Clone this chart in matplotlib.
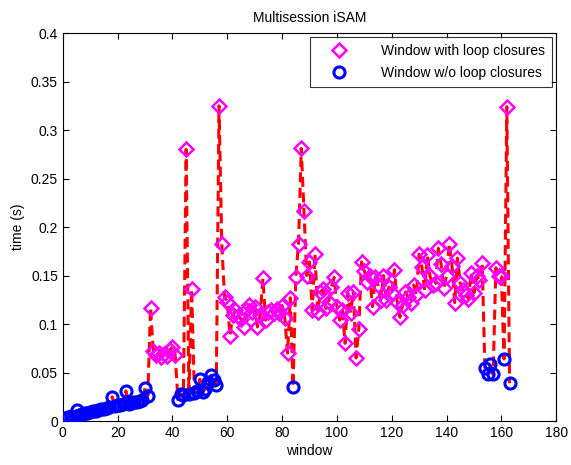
import matplotlib
matplotlib.use('Agg')
import matplotlib.pyplot as plt
import numpy as np

plt.rcParams['font.family'] = ['Liberation Sans', 'DejaVu Sans']

# time per window (s); loop closure flag per window
windows = list(range(1, 164))
times = [
    0.003, 0.004, 0.005, 0.004, 0.011, 0.006, 0.007, 0.008, 0.008, 0.009,
    0.010, 0.010, 0.011, 0.012, 0.012, 0.013, 0.014, 0.025, 0.015, 0.016,
    0.017, 0.018, 0.031, 0.018, 0.019, 0.020, 0.020, 0.021, 0.022, 0.034,
    0.026, 0.117, 0.072, 0.068, 0.070, 0.066, 0.069, 0.067, 0.073, 0.076,
    0.068, 0.022, 0.028, 0.027, 0.280, 0.028, 0.136, 0.029, 0.031, 0.043,
    0.030, 0.033, 0.040, 0.047, 0.042, 0.037, 0.325, 0.183, 0.128, 0.123,
    0.088, 0.109, 0.114, 0.108, 0.105, 0.097, 0.114, 0.120, 0.112, 0.118,
    0.097, 0.109, 0.147, 0.104, 0.112, 0.114, 0.111, 0.115, 0.111, 0.119,
    0.106, 0.070, 0.127, 0.035, 0.148, 0.183, 0.281, 0.216, 0.150, 0.164,
    0.114, 0.172, 0.112, 0.133, 0.136, 0.116, 0.123, 0.138, 0.148, 0.118,
    0.104, 0.114, 0.080, 0.132, 0.111, 0.133, 0.065, 0.095, 0.164, 0.155,
    0.143, 0.149, 0.118, 0.148, 0.140, 0.125, 0.150, 0.125, 0.138, 0.132,
    0.156, 0.123, 0.107, 0.120, 0.133, 0.128, 0.122, 0.140, 0.130, 0.172,
    0.159, 0.135, 0.171, 0.149, 0.140, 0.142, 0.178, 0.162, 0.137, 0.150,
    0.183, 0.160, 0.122, 0.168, 0.142, 0.135, 0.130, 0.126, 0.153, 0.132,
    0.150, 0.145, 0.163, 0.055, 0.048, 0.059, 0.048, 0.158, 0.150, 0.149,
    0.064, 0.324, 0.039,
]
# windows without loop closures
no_loop = list(range(1, 32)) + [42, 43, 44, 46] + list(range(48, 57)) + [84, 154, 155, 156, 157, 161, 163]

w = np.array(windows)
t = np.array(times)
mask = np.isin(w, no_loop)

fig = plt.figure(figsize=(5.71, 4.65), dpi=100)
ax = fig.add_axes([0.110, 0.0946, 0.864, 0.8344])

ax.plot(w, t, color='red', lw=2.2, linestyle=(0, (3.3, 1.8)), zorder=1)
ax.plot(w[~mask], t[~mask], linestyle='none', marker='D', ms=7.5, mfc='none',
        mec='magenta', mew=1.8, label='Window with loop closures', zorder=2)
ax.plot(w[mask], t[mask], linestyle='none', marker='o', ms=8, mfc='none',
        mec='blue', mew=2.2, label='Window w/o loop closures', zorder=3)

ax.set_xlim(0, 180)
ax.set_ylim(0, 0.4)
ax.set_xticks(range(0, 181, 20))
ax.set_yticks(np.arange(0, 0.41, 0.05))
ax.set_yticklabels(['0', '0.05', '0.1', '0.15', '0.2', '0.25', '0.3', '0.35', '0.4'])
ax.tick_params(direction='in', top=True, right=True, length=4, labelsize=10, width=0.8)
ax.set_xlabel('window', fontsize=10, labelpad=3)
ax.set_ylabel('time (s)', fontsize=10)
ax.set_title('Multisession iSAM', fontsize=10, pad=8)

leg = ax.legend(loc='upper right', fontsize=10, frameon=True, fancybox=False,
                edgecolor='black', borderaxespad=0.3, handletextpad=1.4,
                labelspacing=0.55, handlelength=3.2, borderpad=0.5)
leg.get_frame().set_linewidth(0.8)

fig.savefig('out.png', dpi=100)
